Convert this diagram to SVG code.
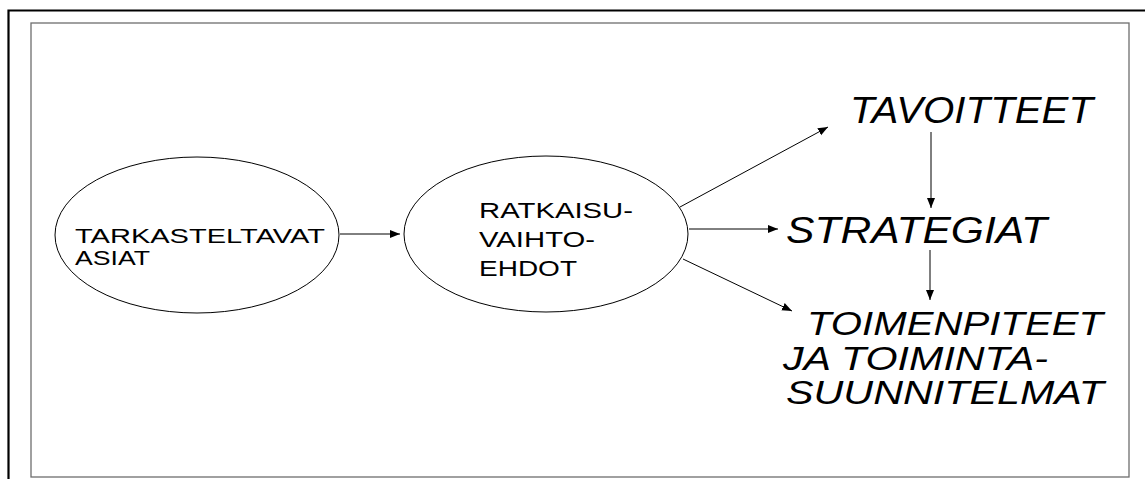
<svg xmlns="http://www.w3.org/2000/svg" width="1145" height="479" viewBox="0 0 1145 479">
<style>
.frame-out{fill:none;stroke:#000;stroke-width:2.2}
.frame-in{fill:none;stroke:#6e6e6e;stroke-width:1.3}
.node{fill:#fff;stroke:#000;stroke-width:1}
.lbl{font-family:"Liberation Sans",Arial,sans-serif;font-size:22px;fill:#000}
.big{font-family:"Liberation Sans",Arial,sans-serif;font-size:36px;font-style:italic;fill:#000}
.conn{stroke:#000;stroke-width:1;fill:none;marker-end:url(#ah)}
</style>
<defs>
<marker id="ah" markerUnits="userSpaceOnUse" markerWidth="12" markerHeight="10" refX="10" refY="4" orient="auto">
<path d="M0,0 L10,4 L0,8 Z" fill="#000"/>
</marker>
</defs>
<rect width="1145" height="479" fill="#fff"/>
<path class="frame-out" d="M8.5,479 L8.5,10.5 L1145,10.5"/>
<rect class="frame-in" x="31" y="23" width="1098" height="454"/>
<g id="connectors">
<line class="conn" x1="340" y1="234" x2="400" y2="234"/>
<line class="conn" x1="680" y1="207" x2="828" y2="127"/>
<line class="conn" x1="689" y1="229" x2="778" y2="229"/>
<line class="conn" x1="683" y1="259" x2="792" y2="311"/>
<line class="conn" x1="931" y1="132" x2="931" y2="208"/>
<line class="conn" x1="930" y1="250" x2="930" y2="300"/>
</g>
<g id="tarkasteltavat">
<ellipse class="node" cx="197" cy="235" rx="142" ry="78"/>
<text class="lbl" x="75" y="243" style="font-size:20.5px" textLength="250" lengthAdjust="spacingAndGlyphs">TARKASTELTAVAT</text>
<text class="lbl" x="75" y="265" style="font-size:20.5px" textLength="75" lengthAdjust="spacingAndGlyphs">ASIAT</text>
</g>
<g id="ratkaisuvaihtoehdot">
<ellipse class="node" cx="546" cy="234" rx="142" ry="78"/>
<text class="lbl" x="479" y="218" textLength="154" lengthAdjust="spacingAndGlyphs">RATKAISU-</text>
<text class="lbl" x="479" y="247" textLength="116" lengthAdjust="spacingAndGlyphs">VAIHTO-</text>
<text class="lbl" x="479" y="276" textLength="98" lengthAdjust="spacingAndGlyphs">EHDOT</text>
</g>
<g id="tavoitteet">
<text class="big" x="850" y="123" textLength="243" lengthAdjust="spacingAndGlyphs">TAVOITTEET</text>
</g>
<g id="strategiat">
<text class="big" x="786" y="243" style="font-size:37px" textLength="261" lengthAdjust="spacingAndGlyphs">STRATEGIAT</text>
</g>
<g id="toimenpiteet">
<text class="big" x="807" y="335" style="font-size:34px" textLength="296" lengthAdjust="spacingAndGlyphs">TOIMENPITEET</text>
<text class="big" x="783" y="369.5" style="font-size:34px" textLength="265" lengthAdjust="spacingAndGlyphs">JA TOIMINTA-</text>
<text class="big" x="786" y="404" style="font-size:34px" textLength="318" lengthAdjust="spacingAndGlyphs">SUUNNITELMAT</text>
</g>
</svg>
